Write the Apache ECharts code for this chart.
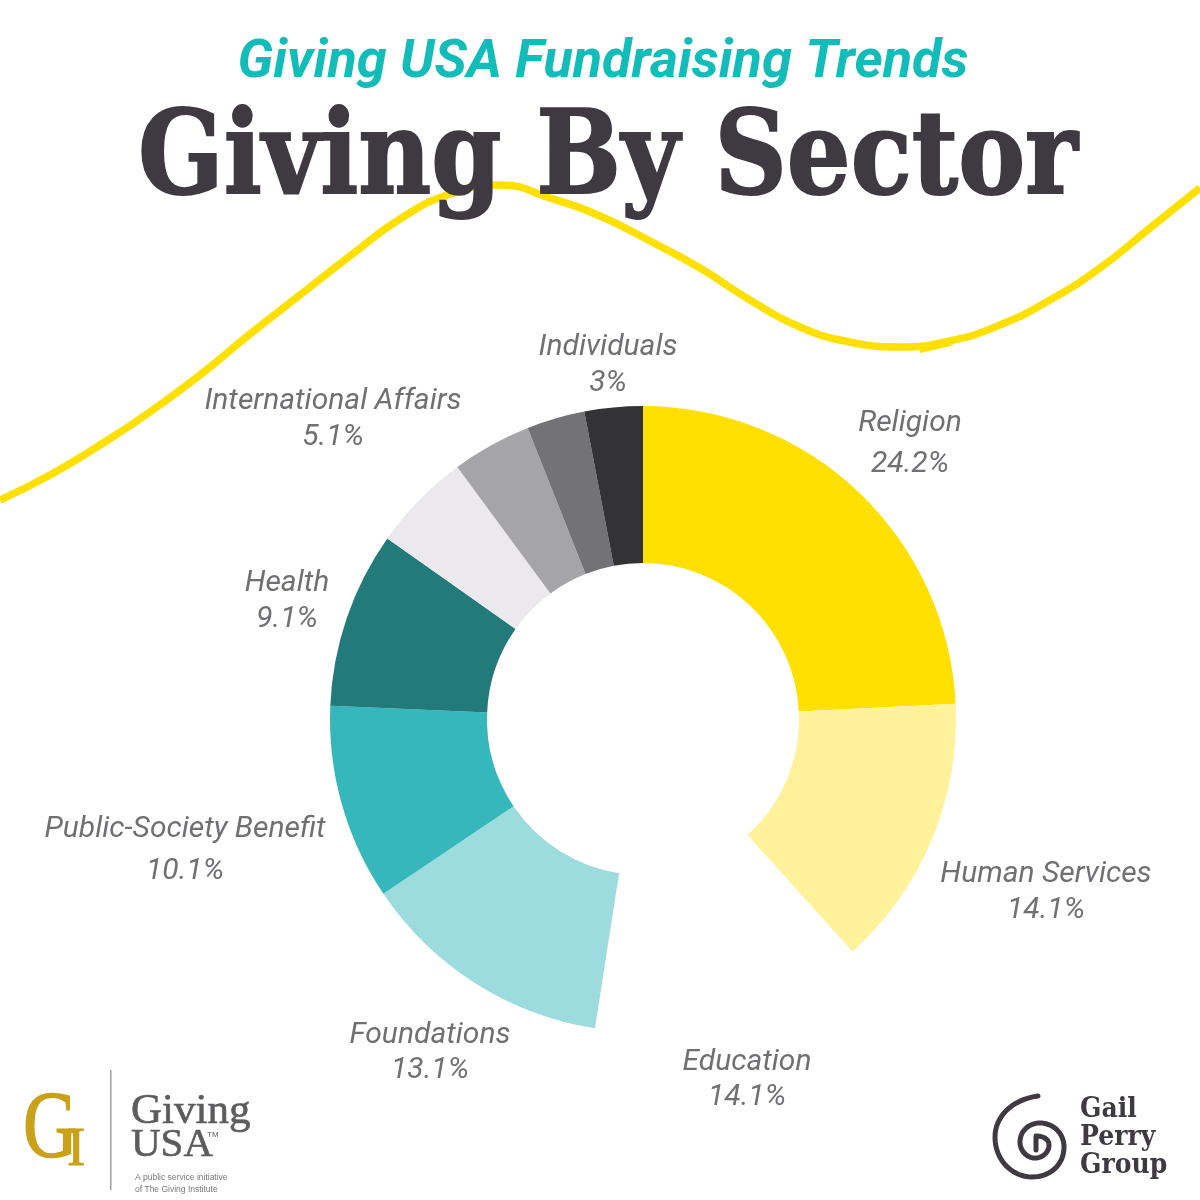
<!DOCTYPE html>
<html><head><meta charset="utf-8">
<style>html,body{margin:0;padding:0;background:#fff}#c{width:1200px;height:1200px}</style>
<script src="https://cdn.jsdelivr.net/npm/echarts@6/dist/echarts.min.js"></script>
</head><body><div id="c"></div>
<script>
const sectors = ['Religion','Human Services','Education','Foundations','Public-Society Benefit','Health','International Affairs','','','Individuals'];
const shares = [24.2,14.1,14.1,13.1,10.1,9.1,5.1,4.1,3,3];
const sectorColors = ['#ffe000','#fff29b','#ffffff','#9cdcde','#35b7bb','#227a7b','#ebe9ee','#a5a5a7','#737375','#333335'];
const labelSpots = [[910,444,41],[1046,892,36],[747,1080,35],[430,1053,35],[185,850,42],[287,601,36],[333,419,36],null,null,[608,365,36]];
const swooshX = [0,50,100,150,200,250,300,350,400,450,500,550,600,650,700,750,800,850,900,950,1000,1050,1100,1150,1200];
const swooshY = [500,475,445,412,375,334,295,256,219,194,185,198,216,241,268,300,327,342,347,341,325,300,268,228,188];
const spiralCurves = [[1038,1096],[1010,1100,995,1118,995,1137],[995,1160,1012,1177,1032,1177],[1050,1177,1064,1165,1064,1147],[1064,1133,1053,1123,1040,1123],[1029,1123,1020,1131,1020,1142],[1020,1151,1027,1158,1035,1158],[1043,1158,1049,1152,1049,1145],[1049,1139,1043,1136,1036,1136]];
function flatten(c){const pts=[c[0]];let p=c[0];
  for(const s of c.slice(1)){for(let i=1;i<=16;i++){const t=i/16,u=1-t;
    pts.push([u*u*u*p[0]+3*u*u*t*s[0]+3*u*t*t*s[2]+t*t*t*s[4],u*u*u*p[1]+3*u*u*t*s[1]+3*u*t*t*s[3]+t*t*t*s[5]]);}
    p=[s[4],s[5]];}
  pts.push([1036,1150]);return pts;}

const chart = echarts.init(document.getElementById('c'), null, {renderer:'canvas'});
const txt = (x,y,text,font,fill,align,extra,style) => Object.assign({type:'text',x,y,z:100,silent:true,
  style:Object.assign({text,x:0,y:0,font,fill,align:align||'left',verticalAlign:'top'},style||{})},extra||{});
chart.setOption({
  animation:false,
  backgroundColor:'#fff',
  grid:{left:0,right:0,top:0,bottom:0},
  xAxis:{type:'value',min:0,max:1200,show:false},
  yAxis:{type:'value',min:0,max:1200,inverse:true,show:false},
  series:[
    {type:'line',data:swooshX.map((x,i)=>[x,swooshY[i]]),smooth:0.5,showSymbol:false,silent:true,z:1,
     lineStyle:{color:'#ffe000',width:7.5}},
    {type:'pie',z:2,center:[643,719],radius:[156,313],startAngle:90,clockwise:true,avoidLabelOverlap:false,silent:true,
     data:sectors.map((name,i)=>({name,value:shares[i],itemStyle:{color:sectorColors[i]},
       label:labelSpots[i]?{show:true,lineHeight:labelSpots[i][2]}:{show:false},labelLine:{show:false}})),
     label:{position:'outside',formatter:p=>p.name+'\n'+p.value+'%',fontFamily:'Roboto',fontStyle:'italic',fontSize:30,color:'#707074',align:'center',verticalAlign:'middle'},
     labelLine:{show:false},
     labelLayout:p=>{const s=labelSpots[p.dataIndex];return s?{x:s[0],y:s[1],align:'center',verticalAlign:'middle'}:{};}}
  ],
  graphic:[
    txt(603,36,'Giving USA Fundraising Trends','italic bold 54px Roboto','#12bcb8','center'),
    txt(608,105,'Giving By Sector','bold 116px "DejaVu Serif"','#3f3a42','center',{scaleX:0.865},{stroke:'#3f3a42',lineWidth:2}),
    {type:'polygon',z:0,silent:true,shape:{points:[[920,343],[920,353],[955,345]]},style:{fill:'#ffe000'}},
    txt(23,1085,'G','95px "Liberation Serif"','#c9a21a','left',{scaleX:0.8},{stroke:'#c9a21a',lineWidth:1.5}),
    txt(67,1123,'I','55px "Liberation Serif"','#c9a21a','left',null,{stroke:'#c9a21a',lineWidth:1}),
    {type:'rect',z:100,silent:true,shape:{x:110,y:1070,width:1.5,height:120},style:{fill:'#a0a0a0'}},
    txt(131,1090,'Giving','43px "Liberation Serif"','#5c5c5e','left',null,{stroke:'#5c5c5e',lineWidth:0.6}),
    txt(131,1125,'USA','41px "Liberation Serif"','#5c5c5e','left',null,{stroke:'#5c5c5e',lineWidth:0.6}),
    txt(207,1131,'TM','8px "Liberation Sans"','#5c5c5e'),
    txt(135,1173,'A public service initiative','8.5px "Liberation Sans"','#777'),
    txt(135,1185,'of The Giving Institute','8.5px "Liberation Sans"','#777'),
    {type:'polyline',z:100,silent:true,shape:{points:flatten(spiralCurves)},style:{stroke:'#3f3a42',lineWidth:5,fill:'none',lineCap:'round',lineJoin:'round'}},
    txt(1080,1096,'Gail','bold 27px "DejaVu Serif"','#3f3a42','left',{scaleX:0.93}),
    txt(1080,1124,'Perry','bold 27px "DejaVu Serif"','#3f3a42','left',{scaleX:0.93}),
    txt(1080,1152,'Group','bold 27px "DejaVu Serif"','#3f3a42','left',{scaleX:0.93})
  ]
});
</script></body></html>
